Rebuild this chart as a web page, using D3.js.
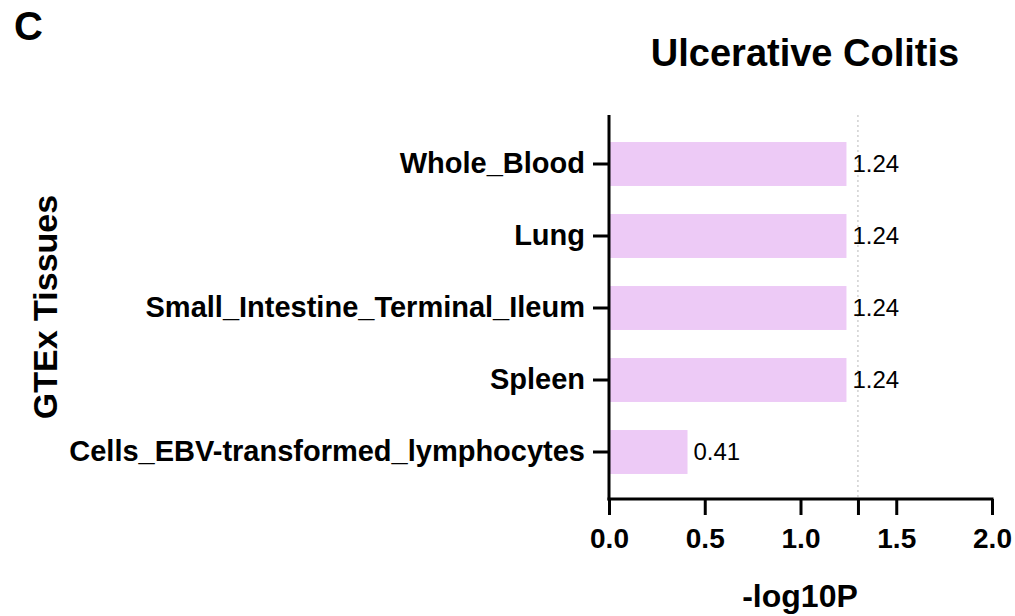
<!DOCTYPE html>
<html>
<head>
<meta charset="utf-8">
<script src="https://cdn.jsdelivr.net/npm/d3@7"></script>
<style>
    body { margin: 0; background: #fff; }
    text { font-family: Arial, "Liberation Sans", Helvetica, sans-serif; fill: #000; }
</style>
</head>
<body>
<svg id="chart" width="1015" height="616"></svg>
<script>
'use strict';

// data
let tissues = ['Whole_Blood', 'Lung', 'Small_Intestine_Terminal_Ileum', 'Spleen', 'Cells_EBV-transformed_lymphocytes'];
let logP = [1.24, 1.24, 1.24, 1.24, 0.41];
let xTicks = [0, 0.5, 1.0, 1.5, 2.0];
let threshold = 1.3; // -log10(0.05), dotted line

let svg = d3.select('#chart');

let plot = {left: 609, right: 992, top: 115, bottom: 499};

let x = d3.scaleLinear().domain([0, 2]).range([plot.left, plot.right]);
let y = d3.scaleBand().domain(tissues).range([128, 488]).paddingInner(0.39).paddingOuter(0.195);

let rows = tissues.map(function (t, i) { return {name: t, value: logP[i]}; });

// threshold line
svg.append('line')
    .attr('x1', x(threshold)).attr('x2', x(threshold))
    .attr('y1', plot.top).attr('y2', plot.bottom)
    .attr('stroke', '#b8b8b8')
    .attr('stroke-width', 1)
    .attr('stroke-dasharray', '2,3');

// bars
svg.selectAll('rect.bar')
    .data(rows)
    .join('rect')
    .attr('class', 'bar')
    .attr('x', x(0))
    .attr('y', function (d) { return y(d.name); })
    .attr('width', function (d) { return x(d.value) - x(0); })
    .attr('height', y.bandwidth())
    .attr('fill', '#edcaf6');

// value labels
svg.selectAll('text.val')
    .data(rows)
    .join('text')
    .attr('class', 'val')
    .attr('x', function (d) { return x(d.value) + 6; })
    .attr('y', function (d) { return y(d.name) + y.bandwidth() / 2; })
    .attr('dy', '.35em')
    .style('font-size', '24px')
    .text(function (d) { return d3.format('.2f')(d.value); });

// x axis
let xAxis = svg.append('g')
    .attr('transform', 'translate(0,' + plot.bottom + ')')
    .call(d3.axisBottom(x).tickValues(xTicks.concat([threshold])).tickSize(16).tickSizeOuter(0)
        .tickFormat(function (d) { return d === threshold ? '' : d3.format('.1f')(d); }));
xAxis.select('.domain').attr('stroke-width', 3).attr('d', 'M' + (plot.left - 1.5) + ',0H' + (plot.right + 1.5));
xAxis.selectAll('.tick line').attr('stroke-width', 3);
xAxis.selectAll('.tick text')
    .attr('y', 49).attr('dy', 0)
    .style('font-size', '28px').style('font-weight', 'bold');

// y axis
let yAxis = svg.append('g')
    .attr('transform', 'translate(' + plot.left + ',0)')
    .call(d3.axisLeft(y).tickSize(16).tickSizeOuter(0).tickPadding(8));
yAxis.select('.domain').attr('stroke-width', 3).attr('d', 'M0,' + plot.top + 'V' + (plot.bottom + 1.5));
yAxis.selectAll('.tick line').attr('stroke-width', 3);
yAxis.selectAll('.tick text')
    .style('font-size', '29px').style('font-weight', 'bold');

// titles
svg.append('text')
    .attr('x', 805).attr('y', 66)
    .attr('text-anchor', 'middle')
    .style('font-size', '38px').style('font-weight', 'bold')
    .text('Ulcerative Colitis');

svg.append('text')
    .attr('x', 800).attr('y', 607)
    .attr('text-anchor', 'middle')
    .style('font-size', '32px').style('font-weight', 'bold')
    .text('-log10P');

svg.append('text')
    .attr('transform', 'translate(57,307)rotate(-90)')
    .attr('text-anchor', 'middle')
    .style('font-size', '34px').style('font-weight', 'bold')
    .text('GTEx Tissues');

svg.append('text')
    .attr('x', 14).attr('y', 40)
    .style('font-size', '40px').style('font-weight', 'bold')
    .text('C');
</script>
</body>
</html>
